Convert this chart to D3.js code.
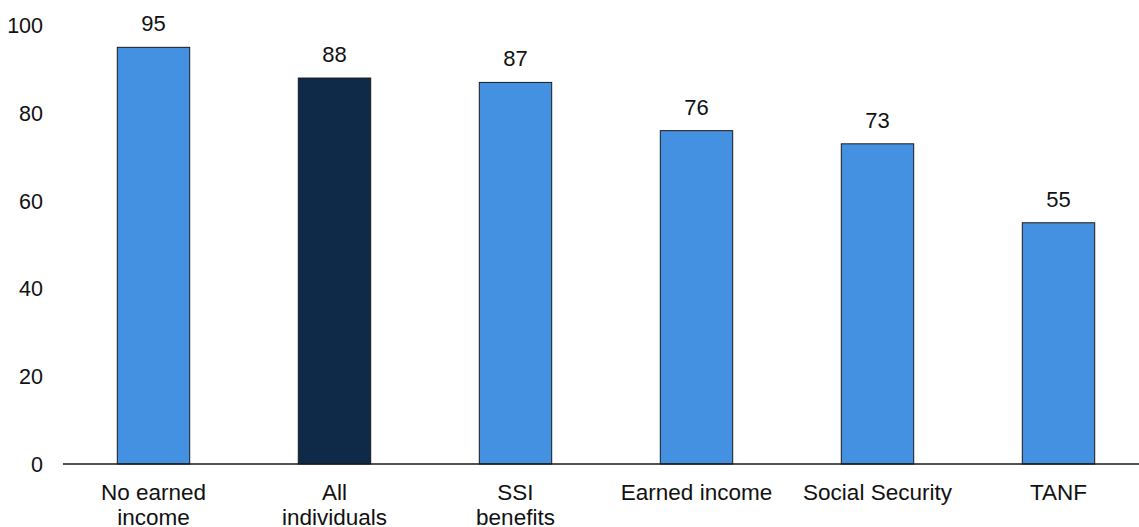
<!DOCTYPE html>
<html>
<head>
<meta charset="utf-8">
<script src="https://cdn.jsdelivr.net/npm/d3@7"></script>
<style>
  body { margin: 0; background: #fff; }
  text { font-family: "Liberation Sans", Arial, sans-serif; fill: #111; }
</style>
</head>
<body>
<div id="chart-area"></div>
<script>
// data
var categories = [["No earned", "income"], ["All", "individuals"], ["SSI", "benefits"], ["Earned income"], ["Social Security"], ["TANF"]];
var values = [95, 88, 87, 76, 73, 55];
var highlight = [false, true, false, false, false, false];
var yTicks = [0, 20, 40, 60, 80, 100];

var width = 1139, height = 527;
var svg = d3.select("#chart-area")
  .append("svg")
  .attr("width", width)
  .attr("height", height);

var x = d3.scaleBand()
  .domain(d3.range(values.length))
  .range([63, 1149])
  .paddingInner(0.6)
  .paddingOuter(0.3);

var y = d3.scaleLinear().domain([0, 100]).range([464, 25.4]);

// y tick labels (no axis line)
svg.append("g")
  .selectAll("text")
  .data(yTicks)
  .enter()
  .append("text")
  .attr("x", 43)
  .attr("y", function (d) { return y(d); })
  .attr("dy", "0.36em")
  .attr("text-anchor", "end")
  .attr("font-size", "21.5px")
  .text(function (d) { return d; });

// bars
svg.append("g")
  .selectAll("rect")
  .data(values)
  .enter()
  .append("rect")
  .attr("x", function (d, i) { return x(i); })
  .attr("y", function (d) { return y(d); })
  .attr("width", x.bandwidth())
  .attr("height", function (d) { return y(0) - y(d); })
  .attr("fill", function (d, i) { return highlight[i] ? "#0e2a48" : "#4591e1"; })
  .attr("stroke", "#1a1a1a")
  .attr("stroke-width", 1);

// value labels
svg.append("g")
  .selectAll("text")
  .data(values)
  .enter()
  .append("text")
  .attr("x", function (d, i) { return x(i) + x.bandwidth() / 2; })
  .attr("y", function (d) { return y(d) - 16; })
  .attr("text-anchor", "middle")
  .attr("font-size", "22px")
  .text(function (d) { return d; });

// baseline
svg.append("line")
  .attr("x1", 63)
  .attr("x2", width)
  .attr("y1", y(0))
  .attr("y2", y(0))
  .attr("stroke", "#1a1a1a")
  .attr("stroke-width", 1.3);

// category labels
var catG = svg.append("g")
  .selectAll("text")
  .data(categories)
  .enter()
  .append("text")
  .attr("text-anchor", "middle")
  .attr("font-size", "22.5px")
  .attr("x", function (d, i) { return x(i) + x.bandwidth() / 2; })
  .attr("y", 500);

catG.selectAll("tspan")
  .data(function (d) { return d; })
  .enter()
  .append("tspan")
  .attr("x", function () { return d3.select(this.parentNode).attr("x"); })
  .attr("dy", function (d, i) { return i === 0 ? 0 : 25; })
  .text(function (d) { return d; });
</script>
</body>
</html>
